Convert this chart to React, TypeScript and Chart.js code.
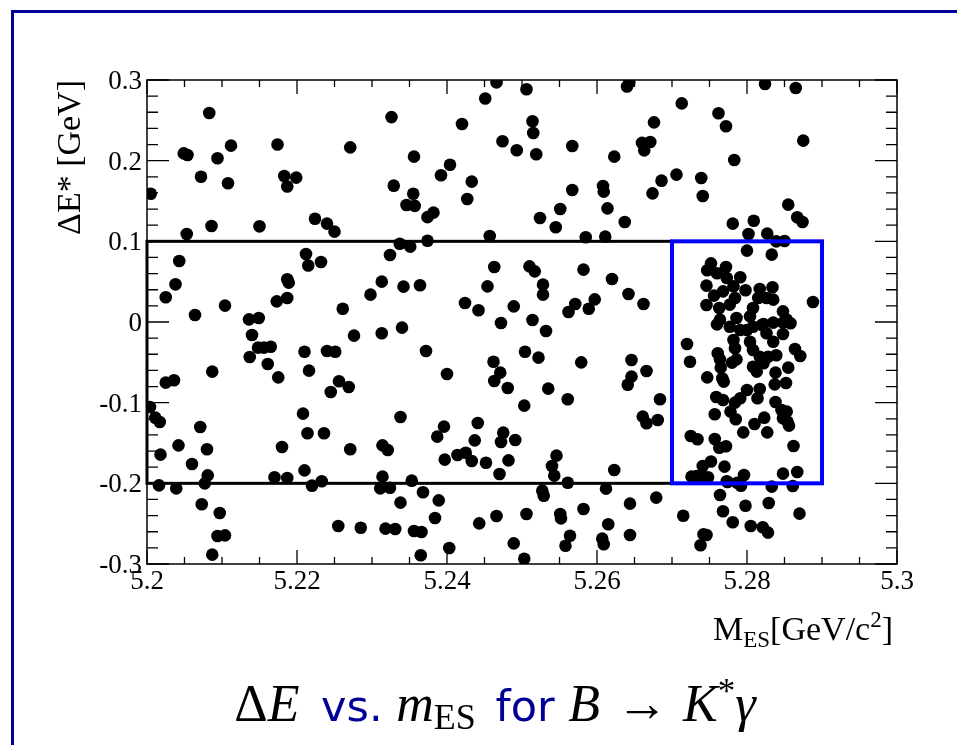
import React, { useEffect, useRef } from 'react';
import { Chart, registerables } from 'chart.js';

Chart.register(...registerables);

// ---------- data: M_ES [GeV/c^2] and DeltaE* [GeV] of each candidate ----------
const upperLeftMass = [5.2083,5.2326,5.2466,5.2451,5.2420,5.2474,5.2493,5.2049,5.2054,5.2112,5.2094,5.2174,5.2271,5.2356,5.2404,5.2392,5.2433,5.2072,5.2108,5.2183,5.2199,5.2187,5.2329,5.2355,5.2346,5.2357,5.2427,5.2005,5.2224,5.2240,5.2250,5.2374,5.2382,5.2053,5.2086,5.2150,5.2457,5.2337,5.2351,5.2374,5.2324,5.2212,5.2215,5.2232,5.2043,5.2038,5.2025,5.2064,5.2104,5.2136,5.2149,5.2173,5.2187,5.2187,5.2189,5.2261,5.2298,5.2313,5.2342,5.2364,5.2463,5.2454,5.2424,5.2442,5.2489,5.2472];
const upperLeftDeltaE = [0.259,0.254,0.297,0.277,0.2455,0.224,0.213,0.209,0.207,0.2186,0.203,0.220,0.2165,0.205,0.195,0.182,0.174,0.180,0.172,0.181,0.179,0.168,0.169,0.159,0.145,0.144,0.1525,0.159,0.128,0.122,0.112,0.130,0.1356,0.109,0.119,0.1186,0.1066,0.097,0.0934,0.1008,0.083,0.0843,0.070,0.0744,0.0756,0.0467,0.0306,0.0087,0.0203,0.0033,0.005,0.0256,0.0298,0.0529,0.0488,0.0165,0.0339,0.050,0.0438,0.0455,0.0682,0.0442,0.0236,0.0145,0.0194,-0.0012];

const upperRightMass = [5.2506,5.2640,5.2643,5.2824,5.2865,5.2713,5.2762,5.2772,5.2514,5.2515,5.2519,5.2676,5.2567,5.2660,5.2671,5.2663,5.2623,5.2875,5.2783,5.2706,5.2686,5.2674,5.2739,5.2741,5.2567,5.2608,5.2609,5.2614,5.2551,5.2524,5.2545,5.2637,5.2585,5.2611,5.2781,5.2809,5.2855,5.2867,5.2874,5.2802,5.2827,5.2839,5.2850,5.2800,5.2833,5.2510,5.2517,5.2528,5.2528,5.2582,5.2620,5.2642,5.2662,5.2571,5.2562,5.2589,5.2597,5.2514];
const upperRightDeltaE = [0.2885,0.292,0.2967,0.2951,0.290,0.271,0.2587,0.2426,0.2488,0.2343,0.2079,0.2475,0.2182,0.222,0.2232,0.2128,0.205,0.2248,0.2008,0.1827,0.1752,0.1595,0.1785,0.1562,0.1637,0.1686,0.1616,0.1409,0.1401,0.1289,0.1174,0.124,0.105,0.1058,0.1219,0.1256,0.1455,0.1298,0.124,0.1091,0.1095,0.100,0.1004,0.0885,0.0835,0.069,0.0628,0.0463,0.0339,0.0649,0.0533,0.0347,0.0223,0.0223,0.0124,0.0165,0.0281,0.0025];

const lowerLeftMass = [5.2140,5.2148,5.2156,5.2165,5.2137,5.2161,5.2175,5.2210,5.2216,5.2240,5.2251,5.2276,5.2313,5.2340,5.2372,5.2245,5.2256,5.2269,5.2462,5.2471,5.2463,5.2481,5.2400,5.2025,5.2036,5.2087,5.2004,5.2011,5.2017,5.2071,5.2042,5.2018,5.2060,5.2080,5.2081,5.2077,5.2016,5.2039,5.2208,5.2214,5.2236,5.2180,5.2170,5.2187,5.2210,5.2220,5.2233,5.2271,5.2338,5.2314,5.2321,5.2314,5.2311,5.2324,5.2353,5.2387,5.2396,5.2441,5.2437,5.2475,5.2472,5.2491,5.2397,5.2414,5.2425,5.2433,5.2452,5.2482,5.2470,5.2073,5.2097,5.2094,5.2104,5.2087,5.2255,5.2285,5.2318,5.2331,5.2356,5.2366,5.2365,5.2403,5.2338,5.2368,5.2389,5.2384,5.2443,5.2466,5.2489];
const lowerLeftDeltaE = [-0.0161,-0.0318,-0.0318,-0.0306,-0.0434,-0.052,-0.0686,-0.0368,-0.0603,-0.0359,-0.0368,-0.0169,-0.014,-0.007,-0.0359,-0.0868,-0.0735,-0.0806,-0.0492,-0.0628,-0.0731,-0.0818,-0.0644,-0.0752,-0.0723,-0.0615,-0.1054,-0.1186,-0.124,-0.1301,-0.1529,-0.1644,-0.176,-0.1578,-0.1901,-0.200,-0.2025,-0.2062,-0.1136,-0.138,-0.138,-0.1549,-0.1925,-0.1934,-0.1839,-0.2029,-0.1975,-0.1578,-0.1177,-0.1529,-0.1587,-0.1917,-0.2062,-0.2054,-0.1967,-0.1421,-0.1297,-0.1252,-0.1467,-0.1372,-0.1487,-0.1463,-0.1706,-0.1649,-0.162,-0.1723,-0.1744,-0.1715,-0.1884,-0.226,-0.2368,-0.2653,-0.2645,-0.2884,-0.2529,-0.255,-0.2562,-0.2566,-0.2591,-0.2603,-0.2892,-0.2801,-0.2239,-0.2111,-0.2211,-0.243,-0.2496,-0.2405,-0.2744];

const lowerRightMass = [5.2532,5.2504,5.2522,5.2579,5.2535,5.2561,5.2503,5.2646,5.2666,5.2646,5.2641,5.2684,5.2661,5.2666,5.2681,5.2546,5.2540,5.2543,5.2623,5.2561,5.2527,5.2529,5.2612,5.2679,5.2644,5.2506,5.2551,5.2552,5.2582,5.2615,5.2564,5.2558,5.2607,5.2609,5.2644,5.2503,5.2715,5.2742,5.2746,5.2738,5.2764,5.2768,5.2781,5.2798,5.2829,5.2805,5.2821,5.2828,5.2870,5.2774,5.2792,5.2833,5.2861];
const lowerRightDeltaE = [-0.0111,-0.0368,-0.0442,-0.05,-0.0826,-0.0958,-0.1037,-0.0471,-0.0607,-0.0677,-0.0777,-0.0958,-0.1173,-0.1256,-0.1215,-0.1657,-0.1785,-0.1905,-0.1835,-0.1992,-0.2091,-0.2153,-0.2066,-0.2177,-0.2252,-0.238,-0.238,-0.2434,-0.2318,-0.2508,-0.2649,-0.2773,-0.2686,-0.2756,-0.264,-0.2934,-0.2401,-0.2632,-0.264,-0.2768,-0.2144,-0.2347,-0.2483,-0.2277,-0.2244,-0.2529,-0.2545,-0.2611,-0.2376,-0.1983,-0.2029,-0.2041,-0.2033];

const signalUpperMass = [5.2752,5.2747,5.2772,5.2760,5.2773,5.2791,5.2746,5.2756,5.2768,5.2782,5.2798,5.2746,5.2763,5.2777,5.2784,5.2817,5.2834,5.2815,5.2826,5.2835,5.2808,5.2804,5.2848,5.2853,5.2888,5.2764,5.2786,5.2822];
const signalUpperDeltaE = [0.0727,0.0641,0.0682,0.0604,0.0546,0.0554,0.0451,0.0327,0.038,0.0442,0.0393,0.0211,0.0174,0.0215,0.0298,0.0409,0.043,0.0298,0.0298,0.0277,0.0174,0.007,0.0132,0.003,0.0248,0.003,0.005,-0.0025];

const signalLowerMass = [5.2720,5.2724,5.2747,5.2761,5.2764,5.2765,5.2767,5.2769,5.2760,5.2777,5.2782,5.2784,5.2780,5.2786,5.2791,5.2800,5.2808,5.2820,5.2835,5.2848,5.2858,5.2826,5.2835,5.2848,5.2804,5.2808,5.2817,5.2808,5.2813,5.2822,5.2828,5.2839,5.2864,5.2871,5.2855,5.2838,5.2837,5.2852,5.2800,5.2817,5.2814,5.2791,5.2784,5.2768,5.2759,5.2757,5.2778,5.2785,5.2795,5.2810,5.2823,5.2827,5.2838,5.2846,5.2853,5.2848,5.2854,5.2856,5.2862,5.2725,5.2734,5.2757,5.2763,5.2772,5.2741,5.2752,5.2770,5.2726,5.2733,5.2740,5.2748,5.2773,5.2787,5.2796,5.2848,5.2867];
const signalLowerDeltaE = [-0.0273,-0.0492,-0.0686,-0.0388,-0.0463,-0.0566,-0.0698,-0.0739,-0.0029,-0.0058,-0.0223,-0.0326,-0.0504,-0.0463,-0.0099,-0.0099,-0.0058,-0.0037,-0.0008,-0.0008,-0.0016,-0.014,-0.0244,-0.0149,-0.0244,-0.0347,-0.043,-0.0554,-0.0615,-0.0512,-0.043,-0.0413,-0.0335,-0.0421,-0.0566,-0.0628,-0.0773,-0.0756,-0.0843,-0.083,-0.0946,-0.0946,-0.1000,-0.0967,-0.093,-0.1144,-0.1111,-0.1206,-0.1368,-0.1264,-0.1186,-0.1368,-0.0992,-0.1091,-0.1111,-0.1194,-0.1235,-0.1285,-0.1537,-0.1413,-0.1454,-0.145,-0.1558,-0.1541,-0.1785,-0.173,-0.1793,-0.1917,-0.1909,-0.1909,-0.1925,-0.1975,-0.1992,-0.1897,-0.188,-0.1859];

// axis ranges and tick labels
const xRange = [5.2, 5.3];
const yRange = [-0.3, 0.3];
const xTickValues = [5.2, 5.22, 5.24, 5.26, 5.28, 5.3];
const xTickLabels = ['5.2', '5.22', '5.24', '5.26', '5.28', '5.3'];
const yTickValues = [-0.3, -0.2, -0.1, 0, 0.1, 0.2, 0.3];
const yTickLabels = ['-0.3', '-0.2', '-0.1', '0', '0.1', '0.2', '0.3'];
const xMinorStep = 0.005;
const yMinorStep = 0.02;

// selection regions [xMin, xMax, yMin, yMax]
const sidebandRegion = [5.2, 5.27, -0.2, 0.1];
const signalRegion = [5.27, 5.29, -0.2, 0.1];

const yAxisTitle = 'ΔE* [GeV]';

const SERIF = '"Liberation Serif", "Times New Roman", serif';
const SANS = '"DejaVu Sans", "Liberation Sans", sans-serif';
const NAVY = '#000096';

function zip(xs: number[], ys: number[]) {
  return xs.map((x, i) => ({ x, y: ys[i] }));
}

type Seg = { text: string; font: string; color?: string; dy?: number; dx?: number };

function drawRich(ctx: CanvasRenderingContext2D, segs: Seg[], x: number, baseline: number, align: 'left' | 'center' | 'right') {
  ctx.save();
  ctx.textAlign = 'left';
  ctx.textBaseline = 'alphabetic';
  const widths = segs.map((s) => {
    ctx.font = s.font;
    return ctx.measureText(s.text).width + (s.dx || 0);
  });
  const total = widths.reduce((a, b) => a + b, 0);
  let cx = align === 'right' ? x - total : align === 'center' ? x - total / 2 : x;
  segs.forEach((s, i) => {
    ctx.font = s.font;
    ctx.fillStyle = s.color || '#000';
    ctx.fillText(s.text, cx + (s.dx || 0), baseline + (s.dy || 0));
    cx += widths[i];
  });
  ctx.restore();
}

const rootStylePlugin = {
  id: 'rootStyle',
  afterDatasetsDraw(chart: any) {
    const { ctx, chartArea: a, scales } = chart;
    const xs = scales.x;
    const ys = scales.y;
    ctx.save();

    // selection boxes
    const box = (r: number[], color: string, lw: number) => {
      const l = xs.getPixelForValue(r[0]);
      const rr = xs.getPixelForValue(r[1]);
      const b = ys.getPixelForValue(r[2]);
      const t = ys.getPixelForValue(r[3]);
      ctx.lineWidth = lw;
      ctx.strokeStyle = color;
      ctx.strokeRect(l, t, rr - l, b - t);
    };
    box(sidebandRegion, '#000000', 3);
    box(signalRegion, '#0000ff', 4);

    // frame
    ctx.lineWidth = 1.5;
    ctx.strokeStyle = '#000';
    ctx.strokeRect(a.left, a.top, a.right - a.left, a.bottom - a.top);

    // inward ticks, ROOT style
    ctx.lineWidth = 1.3;
    ctx.beginPath();
    const xMajor = 14, xMinor = 7, yMajor = 22, yMinor = 11;
    const nx = Math.round((xRange[1] - xRange[0]) / xMinorStep);
    for (let i = 0; i <= nx; i++) {
      const v = xRange[0] + i * xMinorStep;
      const px = xs.getPixelForValue(v);
      const len = i % 4 === 0 ? xMajor : xMinor;
      ctx.moveTo(px, a.bottom); ctx.lineTo(px, a.bottom - len);
      ctx.moveTo(px, a.top); ctx.lineTo(px, a.top + len);
    }
    const ny = Math.round((yRange[1] - yRange[0]) / yMinorStep);
    for (let i = 0; i <= ny; i++) {
      const v = yRange[0] + i * yMinorStep;
      const py = ys.getPixelForValue(v);
      const len = i % 5 === 0 ? yMajor : yMinor;
      ctx.moveTo(a.left, py); ctx.lineTo(a.left + len, py);
      ctx.moveTo(a.right, py); ctx.lineTo(a.right - len, py);
    }
    ctx.stroke();

    // x-axis title  M_ES[GeV/c^2]
    drawRich(ctx, [
      { text: 'M', font: `34px ${SERIF}` },
      { text: 'ES', font: `23px ${SERIF}`, dy: 7 },
      { text: '[GeV/c', font: `34px ${SERIF}` },
      { text: '2', font: `23px ${SERIF}`, dy: -13 },
      { text: ']', font: `34px ${SERIF}` },
    ], a.right - 4, 640, 'right');

    // caption
    const cap = 52;
    const sans = 43;
    drawRich(ctx, [
      { text: 'Δ', font: `${cap}px ${SERIF}` },
      { text: 'E', font: `italic ${cap}px ${SERIF}` },
      { text: ' vs. ', font: `${sans}px ${SANS}`, color: NAVY, dx: 8 },
      { text: 'm', font: `italic ${cap}px ${SERIF}` },
      { text: 'ES', font: `36px ${SERIF}`, dy: 8 },
      { text: ' for ', font: `${sans}px ${SANS}`, color: NAVY, dx: 6 },
      { text: 'B', font: `italic ${cap}px ${SERIF}` },
      { text: ' → ', font: `${cap}px ${SERIF}`, dx: 3 },
      { text: 'K', font: `italic ${cap}px ${SERIF}`, dx: 2 },
      { text: '*', font: `35px ${SERIF}`, dy: -18 },
      { text: 'γ', font: `italic ${cap}px ${SERIF}` },
    ], 495, 721, 'center');

    // page frame (navy)
    ctx.fillStyle = NAVY;
    ctx.fillRect(11, 10, chart.width - 11, 3);
    ctx.fillRect(11, 10, 3, chart.height - 10);

    ctx.restore();
  },
};

export default function App() {
  const ref = useRef<HTMLCanvasElement | null>(null);

  useEffect(() => {
    const canvas = ref.current;
    if (!canvas) return;
    const points = [
      ...zip(upperLeftMass, upperLeftDeltaE),
      ...zip(upperRightMass, upperRightDeltaE),
      ...zip(lowerLeftMass, lowerLeftDeltaE),
      ...zip(lowerRightMass, lowerRightDeltaE),
      ...zip(signalUpperMass, signalUpperDeltaE),
      ...zip(signalLowerMass, signalLowerDeltaE),
    ];
    const chart = new Chart(canvas, {
      type: 'scatter',
      data: {
        datasets: [
          {
            data: points,
            pointRadius: 6.3,
            pointHoverRadius: 6.3,
            pointBackgroundColor: '#000',
            pointBorderWidth: 0,
            pointBorderColor: '#000',
          },
        ],
      },
      options: {
        animation: false,
        responsive: false,
        devicePixelRatio: 1,
        events: [],
        layout: { padding: { left: 0, top: 80, right: 60, bottom: 0 } },
        plugins: { legend: { display: false }, tooltip: { enabled: false } },
        scales: {
          x: {
            type: 'linear',
            min: xRange[0],
            max: xRange[1],
            afterBuildTicks: (s: any) => {
              s.ticks = xTickValues.map((v) => ({ value: v }));
            },
            afterFit: (s: any) => {
              s.height = 181;
            },
            grid: { display: false, drawTicks: false },
            border: { display: false },
            ticks: {
              callback: (_v: any, i: number) => xTickLabels[i],
              font: { family: SERIF, size: 27 },
              color: '#000',
              padding: 2,
              maxRotation: 0,
              autoSkip: false,
            },
          },
          y: {
            type: 'linear',
            min: yRange[0],
            max: yRange[1],
            afterBuildTicks: (s: any) => {
              s.ticks = yTickValues.map((v) => ({ value: v }));
            },
            afterFit: (s: any) => {
              s.width = 147;
            },
            grid: { display: false, drawTicks: false },
            border: { display: false },
            ticks: {
              callback: (_v: any, i: number) => yTickLabels[i],
              font: { family: SERIF, size: 27 },
              color: '#000',
              padding: 5,
              labelOffset: 2,
              autoSkip: false,
            },
            title: {
              display: true,
              text: yAxisTitle,
              align: 'end',
              color: '#000',
              font: { family: SERIF, size: 34 },
              padding: { top: 51, bottom: 0 },
            },
          },
        },
      } as any,
      plugins: [rootStylePlugin],
    });
    return () => chart.destroy();
  }, []);

  return (
    <div style={{ position: 'fixed', left: 0, top: 0, width: 957, height: 745, background: '#fff' }}>
      <canvas ref={ref} width={957} height={745} style={{ display: 'block', width: 957, height: 745 }} />
    </div>
  );
}
